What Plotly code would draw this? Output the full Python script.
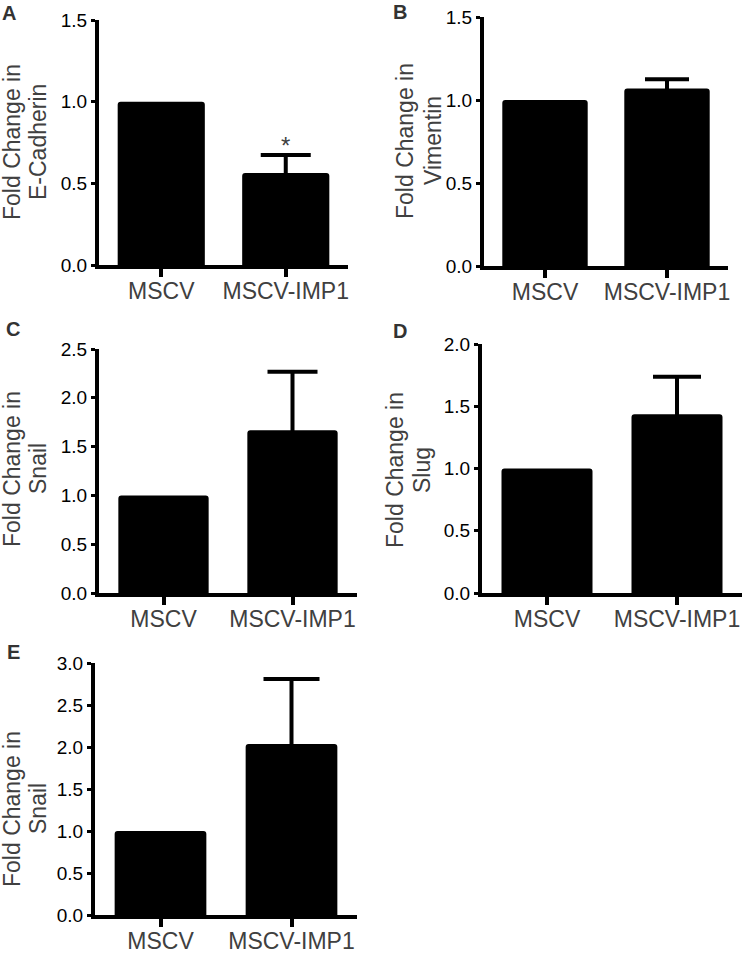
import plotly.graph_objects as go

# ---------------- data ----------------
categories = ["MSCV", "MSCV-IMP1"]
panel_letters = ["A", "B", "C", "D", "E"]
title_line1 = ["Fold Change in"] * 5
title_line2 = ["E-Cadherin", "Vimentin", "Snail", "Slug", "Snail"]
mscv_values = [1.0, 1.0, 1.0, 1.0, 1.0]
imp1_values = [0.564, 1.070, 1.667, 1.436, 2.035]
imp1_errors = [0.109, 0.055, 0.600, 0.300, 0.775]
y_max = [1.5, 1.5, 2.5, 2.0, 3.0]
significance = ["*", "", "", "", ""]

# ---------------- layout geometry (pixels) ----------------
W, H = 742, 954
# left, right, top, bottom of each plot area
boxes = [
    (99, 348, 20, 265),
    (484, 728, 17, 266),
    (99, 357, 349, 593),
    (482, 742, 344, 593),
    (95, 357, 663, 915),
]
letter_pos = [(9, 13), (400, 12), (13, 329), (400, 331), (13, 652)]
# x centre of line 1, x centre of line 2, y centre of the title
title_pos = [(12, 38, 142), (405, 433, 141), (12, 38, 469), (395, 422, 470), (12, 38, 809)]
cap_half = [25, 22, 25, 24, 28]

FONT = "Liberation Sans, Arial, Helvetica, sans-serif"
GRAY = "#404040"

fig = go.Figure()
annotations = []
layout = dict(
    width=W, height=H,
    margin=dict(l=0, r=0, t=0, b=0, autoexpand=False),
    paper_bgcolor="white", plot_bgcolor="white",
    showlegend=False, barmode="overlay",
    font=dict(family=FONT, color=GRAY),
)

for i in range(5):
    n = "" if i == 0 else str(i + 1)
    xa, ya = "x" + n, "y" + n
    l, r, t, b = boxes[i]

    fig.add_trace(go.Bar(
        x=[categories[0]], y=[mscv_values[i]], xaxis=xa, yaxis=ya,
        width=0.70, marker=dict(color="black", line=dict(width=0), cornerradius=3),
        hoverinfo="x+y",
    ))
    fig.add_trace(go.Bar(
        x=[categories[1]], y=[imp1_values[i]], xaxis=xa, yaxis=ya,
        width=0.70, marker=dict(color="black", line=dict(width=0), cornerradius=3),
        error_y=dict(type="data", array=[imp1_errors[i]], symmetric=True,
                     color="black", thickness=4, width=cap_half[i]),
        hoverinfo="x+y",
    ))

    layout["xaxis" + n] = dict(
        domain=[l / W, r / W], anchor=ya, type="category", automargin=False,
        categoryorder="array", categoryarray=categories, range=[-0.5, 1.5],
        showline=True, linewidth=4, linecolor="black",
        ticks="outside", ticklen=8, tickwidth=4, tickcolor="black",
        ticklabelstandoff=-6,
        tickfont=dict(size=23, color=GRAY, family=FONT),
        showgrid=False, zeroline=False, fixedrange=True,
    )
    layout["yaxis" + n] = dict(
        domain=[1 - b / H, 1 - t / H], anchor=xa, automargin=False,
        range=[0, y_max[i]], dtick=0.5, tick0=0, tickformat=".1f",
        showline=True, linewidth=4, linecolor="black",
        ticks="outside", ticklen=4, tickwidth=3, tickcolor="black",
        tickfont=dict(size=19, color="black", family=FONT),
        showgrid=False, zeroline=False, fixedrange=True,
    )

    # y-axis title (two rotated lines)
    x1, x2, ty = title_pos[i]
    for txt, tx in ((title_line1[i], x1), (title_line2[i], x2)):
        annotations.append(dict(
            text=txt, xref="paper", yref="paper",
            x=tx / W, y=1 - ty / H, xanchor="center", yanchor="middle",
            textangle=-90, showarrow=False,
            font=dict(size=23, color=GRAY, family=FONT),
        ))
    # panel letter
    lx, ly = letter_pos[i]
    annotations.append(dict(
        text="<b>" + panel_letters[i] + "</b>", xref="paper", yref="paper",
        x=lx / W, y=1 - ly / H, xanchor="center", yanchor="middle",
        showarrow=False, font=dict(size=20, color="#333333", family=FONT),
    ))
    if significance[i]:
        annotations.append(dict(
            text=significance[i], xref=xa, yref=ya,
            x=categories[1], y=imp1_values[i] + imp1_errors[i],
            xanchor="center", yanchor="bottom", showarrow=False, yshift=-6,
            font=dict(size=24, color=GRAY, family=FONT),
        ))

layout["annotations"] = annotations
fig.update_layout(**layout)
fig.write_html(
    "out.html",
    config={"displayModeBar": False},
    post_script="document.body.style.margin='0';document.body.style.overflow='hidden';",
)
